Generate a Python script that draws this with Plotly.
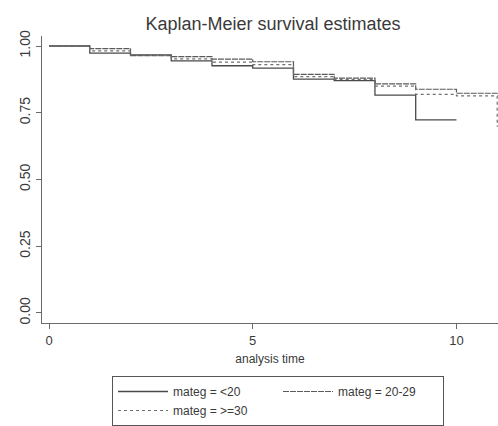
import plotly.graph_objects as go

# Kaplan-Meier survival estimates by maternal age group
time_lt20 = [0, 1, 2, 3, 4, 5, 6, 7, 8, 9, 10]
surv_lt20 = [1.0, 0.973, 0.967, 0.944, 0.926, 0.917, 0.876, 0.870, 0.816, 0.723, 0.723]

time_20_29 = [0, 1, 2, 3, 4, 5, 6, 7, 8, 9, 10, 11, 11.5]
surv_20_29 = [1.0, 0.990, 0.964, 0.960, 0.951, 0.941, 0.894, 0.880, 0.858, 0.838, 0.823, 0.823, 0.823]

time_ge30 = [0, 1, 2, 3, 4, 5, 6, 7, 8, 9, 10, 11, 11.5]
surv_ge30 = [1.0, 0.982, 0.966, 0.952, 0.940, 0.930, 0.885, 0.875, 0.850, 0.819, 0.813, 0.70, 0.70]

series_names = ["mateg = <20", "mateg = 20-29", "mateg = >=30"]

x_ticks = [0, 5, 10]
y_ticks = [0.0, 0.25, 0.50, 0.75, 1.00]
y_tick_labels = ["0.00", "0.25", "0.50", "0.75", "1.00"]

FONT = "Liberation Sans, Arial, sans-serif"
TXT = "#3a3a3a"
AX = "#6a6a6a"

fig = go.Figure()
fig.add_trace(go.Scatter(x=time_lt20, y=surv_lt20, mode="lines", name=series_names[0],
                         line=dict(shape="hv", color="#4a4a4a", width=1.3)))
fig.add_trace(go.Scatter(x=time_20_29, y=surv_20_29, mode="lines", name=series_names[1],
                         line=dict(shape="hv", color="#5a5a5a", width=1.2, dash="6px,1px")))
fig.add_trace(go.Scatter(x=time_ge30, y=surv_ge30, mode="lines", name=series_names[2],
                         line=dict(shape="hv", color="#707070", width=1.2, dash="dot")))

fig.update_layout(
    width=498, height=426,
    margin=dict(l=42, r=0, t=36, b=103),
    paper_bgcolor="white", plot_bgcolor="white",
    font=dict(family=FONT, color=TXT, size=12),
    title=dict(text="Kaplan-Meier survival estimates", x=273 / 498, xanchor="center",
               y=1 - 24 / 426, yanchor="middle",
               font=dict(size=18, color=TXT, family=FONT)),
    showlegend=True,
    legend=dict(orientation="h", x=112 / 498, xref="container", xanchor="left",
                y=1 - 376 / 426, yref="container", yanchor="top",
                bordercolor="#555", borderwidth=1, bgcolor="white",
                font=dict(size=12, color=TXT), itemwidth=50, entrywidth=100,
                entrywidthmode="pixels", tracegroupgap=0),
)
fig.update_xaxes(range=[-0.172, 11.02], tickvals=x_ticks, ticks="outside", ticklen=5,
                 tickcolor=AX, showline=True, linecolor=AX, linewidth=1.2, showgrid=False,
                 zeroline=False, tickfont=dict(size=13, color=TXT),
                 title=dict(text="analysis time", font=dict(size=12, color=TXT), standoff=7))
fig.update_yaxes(range=[-0.0375, 1.0375], tickvals=y_ticks, ticktext=y_tick_labels,
                 ticks="outside", ticklen=5, tickcolor=AX, showline=True, linecolor=AX,
                 linewidth=1.2, showgrid=False, zeroline=False, tickangle=-90,
                 tickfont=dict(size=14, color=TXT))

fig.write_html("out.html")
